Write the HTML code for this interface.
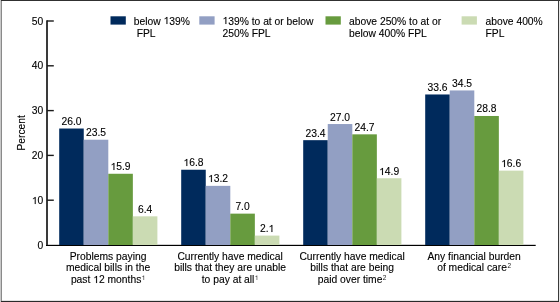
<!DOCTYPE html>
<html><head><meta charset="utf-8"><style>
html,body{margin:0;padding:0;background:#fff;}
svg{display:block;will-change:transform;}
text{font-family:"Liberation Sans",sans-serif;font-size:10.3px;fill:#000;stroke:#000;stroke-width:0.12px;}
</style></head><body>
<svg width="560" height="302" viewBox="0 0 560 302">

<!-- border -->
<rect x="0" y="0" width="1" height="302" fill="#c8c8c8"/>
<rect x="1" y="0" width="1" height="302" fill="#8a8a8a"/>
<rect x="1" y="0" width="559" height="1" fill="#303030"/>
<rect x="558" y="0" width="1" height="302" fill="#3a3a3a"/>
<rect x="559" y="1" width="1" height="301" fill="#e6e6e6"/>
<rect x="2" y="300" width="556" height="1" fill="#e2e2e2"/>
<rect x="1" y="301" width="558" height="1" fill="#2a2a2a"/>
<rect x="48" y="244" width="487.7" height="1" fill="#d0d0d0"/>
<rect x="59.20" y="128.52" width="24.55" height="116.48" fill="#002a5c"/>
<text x="71.48" y="125.02" text-anchor="middle">26.0</text>
<rect x="83.75" y="139.72" width="24.55" height="105.28" fill="#929fc3"/>
<text x="96.03" y="136.22" text-anchor="middle">23.5</text>
<rect x="108.30" y="173.77" width="24.55" height="71.23" fill="#679b3e"/>
<text x="120.58" y="170.27" text-anchor="middle"> 5.9</text>
<rect x="132.85" y="216.33" width="24.55" height="28.67" fill="#cbdbb3"/>
<text x="145.13" y="212.83" text-anchor="middle">6.4</text>
<rect x="181.20" y="169.74" width="24.55" height="75.26" fill="#002a5c"/>
<text x="193.47" y="166.24" text-anchor="middle"> 6.8</text>
<rect x="205.75" y="185.86" width="24.55" height="59.14" fill="#929fc3"/>
<text x="218.03" y="182.36" text-anchor="middle"> 3.2</text>
<rect x="230.30" y="213.64" width="24.55" height="31.36" fill="#679b3e"/>
<text x="242.57" y="210.14" text-anchor="middle">7.0</text>
<rect x="254.85" y="235.59" width="24.55" height="9.41" fill="#cbdbb3"/>
<text x="267.12" y="232.09" text-anchor="middle">2. </text>
<rect x="303.20" y="140.17" width="24.55" height="104.83" fill="#002a5c"/>
<text x="315.47" y="136.67" text-anchor="middle">23.4</text>
<rect x="327.75" y="124.04" width="24.55" height="120.96" fill="#929fc3"/>
<text x="340.02" y="120.54" text-anchor="middle">27.0</text>
<rect x="352.30" y="134.34" width="24.55" height="110.66" fill="#679b3e"/>
<text x="364.57" y="130.84" text-anchor="middle">24.7</text>
<rect x="376.85" y="178.25" width="24.55" height="66.75" fill="#cbdbb3"/>
<text x="389.12" y="174.75" text-anchor="middle"> 4.9</text>
<rect x="425.20" y="94.47" width="24.55" height="150.53" fill="#002a5c"/>
<text x="437.47" y="90.97" text-anchor="middle">33.6</text>
<rect x="449.75" y="90.44" width="24.55" height="154.56" fill="#929fc3"/>
<text x="462.02" y="86.94" text-anchor="middle">34.5</text>
<rect x="474.30" y="115.98" width="24.55" height="129.02" fill="#679b3e"/>
<text x="486.57" y="112.48" text-anchor="middle">28.8</text>
<rect x="498.85" y="170.63" width="24.55" height="74.37" fill="#cbdbb3"/>
<text x="511.12" y="167.13" text-anchor="middle"> 6.6</text>
<rect x="46" y="20.3" width="2" height="225" fill="#3a3a3a"/>
<rect x="46" y="245" width="489.7" height="1" fill="#000"/>
<line x1="47.00" y1="200.20" x2="53.8" y2="200.20" stroke="#1a1a1a" stroke-width="1.4"/>
<line x1="47.00" y1="155.40" x2="53.8" y2="155.40" stroke="#1a1a1a" stroke-width="1.4"/>
<line x1="47.00" y1="110.60" x2="53.8" y2="110.60" stroke="#1a1a1a" stroke-width="1.4"/>
<line x1="47.00" y1="65.80" x2="53.8" y2="65.80" stroke="#1a1a1a" stroke-width="1.4"/>
<line x1="47.00" y1="21.00" x2="53.8" y2="21.00" stroke="#1a1a1a" stroke-width="1.4"/>
<text x="43.3" y="248.50" text-anchor="end">0</text>
<text x="43.3" y="203.70" text-anchor="end"> 0</text>
<text x="43.3" y="158.90" text-anchor="end">20</text>
<text x="43.3" y="114.10" text-anchor="end">30</text>
<text x="43.3" y="69.30" text-anchor="end">40</text>
<text x="43.3" y="24.50" text-anchor="end">50</text>
<!-- legend -->
<rect x="110.5" y="16.3" width="15.3" height="8.3" fill="#002a5c"/>
<text x="133.8" y="24.5">below  39%</text>
<text x="136.7" y="36.5">FPL</text>
<rect x="199.3" y="16.3" width="15.3" height="8.3" fill="#929fc3"/>
<text x="222.5" y="24.5"> 39% to at or below</text>
<text x="222.5" y="36.5">250% FPL</text>
<rect x="325.5" y="16.3" width="15.3" height="8.3" fill="#679b3e"/>
<text x="349" y="24.5">above 250% to at or</text>
<text x="349" y="36.5">below 400% FPL</text>
<rect x="461.6" y="16.3" width="15.3" height="8.3" fill="#cbdbb3"/>
<text x="485.5" y="24.5">above 400%</text>
<text x="485.5" y="36.5">FPL</text>
<!-- y label -->
<text x="0" y="0" text-anchor="middle" transform="translate(25.2,132.8) rotate(-90)">Percent</text>
<!-- categories -->
<g text-anchor="middle">
<text x="108.1" y="259.6">Problems paying</text>
<text x="108.1" y="270.8">medical bills in the</text>
<text x="108.1" y="283.1">past  2 months<tspan font-size="6.5" dy="-2.7" dx="0.4" style="stroke:none;fill:#222"> </tspan></text>
<text x="230.1" y="259.6">Currently have medical</text>
<text x="230.1" y="270.8">bills that they are unable</text>
<text x="230.1" y="283.1">to pay at all<tspan font-size="6.5" dy="-2.7" dx="0.4" style="stroke:none;fill:#222"> </tspan></text>
<text x="352.1" y="259.6">Currently have medical</text>
<text x="352.1" y="270.8">bills that are being</text>
<text x="352.1" y="283.1">paid over time<tspan font-size="6.5" dy="-2.7" dx="0.4" style="stroke:none;fill:#222">2</tspan></text>
<text x="474.1" y="259.6">Any financial burden</text>
<text x="474.1" y="270.8">of medical care<tspan font-size="6.5" dy="-2.7" dx="0.4" style="stroke:none;fill:#222">2</tspan></text>
</g>
<g>
<path transform="translate(110.56,170) scale(0.005029,-0.005029)" d="M 763 0 L 583 0 L 583 1147 C 540 1106 483 1065 413 1024 C 343 983 280 952 223 931 L 223 1105 C 315 1148 395 1200 463 1261 C 531 1322 579 1381 607 1409 L 763 1409 Z" fill="rgb(0, 0, 0)" stroke="rgb(0, 0, 0)" stroke-width="23.9"/>
<path transform="translate(183.45,166) scale(0.005029,-0.005029)" d="M 763 0 L 583 0 L 583 1147 C 540 1106 483 1065 413 1024 C 343 983 280 952 223 931 L 223 1105 C 315 1148 395 1200 463 1261 C 531 1322 579 1381 607 1409 L 763 1409 Z" fill="rgb(0, 0, 0)" stroke="rgb(0, 0, 0)" stroke-width="23.9"/>
<path transform="translate(208.01,182) scale(0.005029,-0.005029)" d="M 763 0 L 583 0 L 583 1147 C 540 1106 483 1065 413 1024 C 343 983 280 952 223 931 L 223 1105 C 315 1148 395 1200 463 1261 C 531 1322 579 1381 607 1409 L 763 1409 Z" fill="rgb(0, 0, 0)" stroke="rgb(0, 0, 0)" stroke-width="23.9"/>
<path transform="translate(268.53,232) scale(0.005029,-0.005029)" d="M 763 0 L 583 0 L 583 1147 C 540 1106 483 1065 413 1024 C 343 983 280 952 223 931 L 223 1105 C 315 1148 395 1200 463 1261 C 531 1322 579 1381 607 1409 L 763 1409 Z" fill="rgb(0, 0, 0)" stroke="rgb(0, 0, 0)" stroke-width="23.9"/>
<path transform="translate(379.10,175) scale(0.005029,-0.005029)" d="M 763 0 L 583 0 L 583 1147 C 540 1106 483 1065 413 1024 C 343 983 280 952 223 931 L 223 1105 C 315 1148 395 1200 463 1261 C 531 1322 579 1381 607 1409 L 763 1409 Z" fill="rgb(0, 0, 0)" stroke="rgb(0, 0, 0)" stroke-width="23.9"/>
<path transform="translate(501.10,167) scale(0.005029,-0.005029)" d="M 763 0 L 583 0 L 583 1147 C 540 1106 483 1065 413 1024 C 343 983 280 952 223 931 L 223 1105 C 315 1148 395 1200 463 1261 C 531 1322 579 1381 607 1409 L 763 1409 Z" fill="rgb(0, 0, 0)" stroke="rgb(0, 0, 0)" stroke-width="23.9"/>
<path transform="translate(31.83,204) scale(0.005029,-0.005029)" d="M 763 0 L 583 0 L 583 1147 C 540 1106 483 1065 413 1024 C 343 983 280 952 223 931 L 223 1105 C 315 1148 395 1200 463 1261 C 531 1322 579 1381 607 1409 L 763 1409 Z" fill="rgb(0, 0, 0)" stroke="rgb(0, 0, 0)" stroke-width="23.9"/>
<path transform="translate(163.55,24) scale(0.005029,-0.005029)" d="M 763 0 L 583 0 L 583 1147 C 540 1106 483 1065 413 1024 C 343 983 280 952 223 931 L 223 1105 C 315 1148 395 1200 463 1261 C 531 1322 579 1381 607 1409 L 763 1409 Z" fill="rgb(0, 0, 0)" stroke="rgb(0, 0, 0)" stroke-width="23.9"/>
<path transform="translate(222.50,24) scale(0.005029,-0.005029)" d="M 763 0 L 583 0 L 583 1147 C 540 1106 483 1065 413 1024 C 343 983 280 952 223 931 L 223 1105 C 315 1148 395 1200 463 1261 C 531 1322 579 1381 607 1409 L 763 1409 Z" fill="rgb(0, 0, 0)" stroke="rgb(0, 0, 0)" stroke-width="23.9"/>
<path transform="translate(93.20,283) scale(0.005029,-0.005029)" d="M 763 0 L 583 0 L 583 1147 C 540 1106 483 1065 413 1024 C 343 983 280 952 223 931 L 223 1105 C 315 1148 395 1200 463 1261 C 531 1322 579 1381 607 1409 L 763 1409 Z" fill="rgb(0, 0, 0)" stroke="rgb(0, 0, 0)" stroke-width="23.9"/>
<path transform="translate(141.69,280) scale(0.003174,-0.003174)" d="M 763 0 L 583 0 L 583 1147 C 540 1106 483 1065 413 1024 C 343 983 280 952 223 931 L 223 1105 C 315 1148 395 1200 463 1261 C 531 1322 579 1381 607 1409 L 763 1409 Z" fill="rgb(34, 34, 34)"/>
<path transform="translate(254.82,280) scale(0.003174,-0.003174)" d="M 763 0 L 583 0 L 583 1147 C 540 1106 483 1065 413 1024 C 343 983 280 952 223 931 L 223 1105 C 315 1148 395 1200 463 1261 C 531 1322 579 1381 607 1409 L 763 1409 Z" fill="rgb(34, 34, 34)"/>
</g>
</svg>
</body></html>
